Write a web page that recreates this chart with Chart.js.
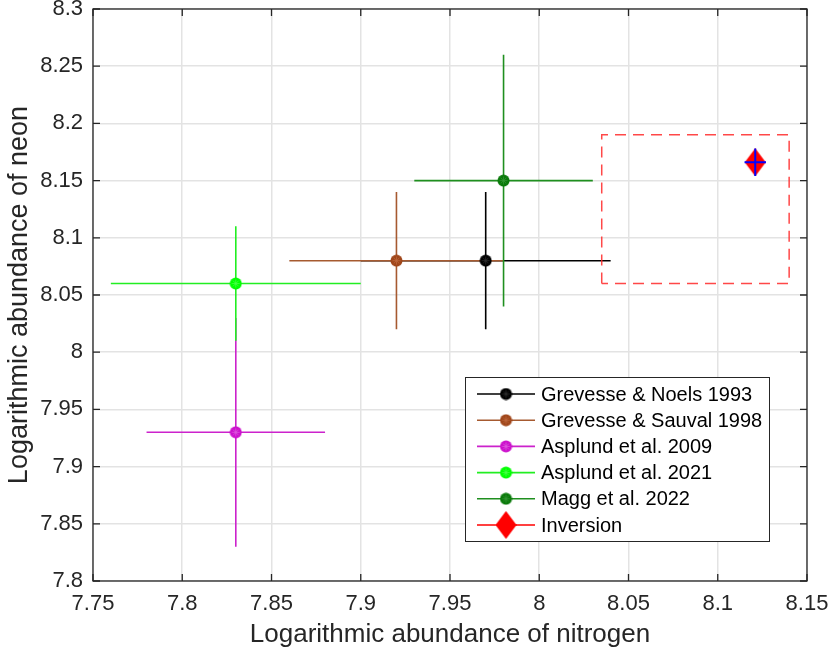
<!DOCTYPE html>
<html>
<head>
<meta charset="utf-8">
<title>Nitrogen vs neon abundance</title>
<script src="https://cdn.jsdelivr.net/npm/chart.js@4.4.1/dist/chart.umd.min.js"></script>
<style>
    html, body { margin: 0; padding: 0; background: #ffffff; }
    canvas { display: block; }
</style>
</head>
<body>
<canvas id="abundanceChart" width="832" height="655"></canvas>
<script>
// solar abundance determinations (log eps)
const seriesNames = ['Grevesse & Noels 1993', 'Grevesse & Sauval 1998', 'Asplund et al. 2009',
    'Asplund et al. 2021', 'Magg et al. 2022', 'Inversion'];
const nitrogen = [7.97, 7.92, 7.83, 7.83, 7.98, 8.121];
const nitrogenErr = [0.07, 0.06, 0.05, 0.07, 0.05, 0.006];
const neon = [8.08, 8.08, 7.93, 8.06, 8.15, 8.166];
const neonErr = [0.06, 0.06, 0.10, 0.05, 0.11, 0.012];

// dashed region around the inversion result
const regionX = [8.035, 8.14];
const regionY = [8.06, 8.19];

const xTicks = [7.75, 7.8, 7.85, 7.9, 7.95, 8, 8.05, 8.1, 8.15];
const yTicks = [7.8, 7.85, 7.9, 7.95, 8, 8.05, 8.1, 8.15, 8.2, 8.25, 8.3];

const lineColors = ['#000000', '#a65a30', '#cc22cc', '#22ee22', '#1f8f1f', '#ff0000'];
const fillColors = ['#000000', '#a0461a', '#cc11cc', '#00ff00', '#0a7a0a', '#ff0000'];
const starColors = ['#333333', '#c06a40', '#e060e0', '#50ff50', '#3a9a3a', '#ff0000'];
const inversionBarColor = '#0000ff';

const FONT = "'Liberation Sans', Arial, Helvetica, sans-serif";
const INK = '#262626';

function makeCircle(fill, star) {
    const c = document.createElement('canvas');
    c.width = 13; c.height = 13;
    const g = c.getContext('2d');
    g.fillStyle = fill;
    g.beginPath();
    g.arc(6.5, 6.5, 6, 0, Math.PI * 2);
    g.fill();
    g.strokeStyle = star;
    g.lineWidth = 0.7;
    for (let k = 0; k < 4; k++) {
        const a = k * Math.PI / 4;
        g.beginPath();
        g.moveTo(6.5 - 4 * Math.cos(a), 6.5 - 4 * Math.sin(a));
        g.lineTo(6.5 + 4 * Math.cos(a), 6.5 + 4 * Math.sin(a));
        g.stroke();
    }
    return c;
}

function makeDiamond(fill) {
    const c = document.createElement('canvas');
    c.width = 21; c.height = 28;
    const g = c.getContext('2d');
    g.fillStyle = fill;
    g.beginPath();
    g.moveTo(10.5, 0);
    g.lineTo(21, 14);
    g.lineTo(10.5, 28);
    g.lineTo(0, 14);
    g.closePath();
    g.fill();
    return c;
}

const markers = seriesNames.map((n, i) =>
    i === seriesNames.length - 1 ? makeDiamond(fillColors[i]) : makeCircle(fillColors[i], starColors[i]));

function errorBarPoints(i) {
    return [
        { x: nitrogen[i] - nitrogenErr[i], y: neon[i] },
        { x: nitrogen[i] + nitrogenErr[i], y: neon[i] },
        { x: nitrogen[i], y: null },
        { x: nitrogen[i], y: neon[i] - neonErr[i] },
        { x: nitrogen[i], y: neon[i] + neonErr[i] },
    ];
}

const datasets = [];
const last = seriesNames.length - 1;
seriesNames.forEach((name, i) => {
    const isInv = i === last;
    datasets.push({
        type: 'line',
        label: name + ' error',
        data: errorBarPoints(i),
        borderColor: isInv ? inversionBarColor : lineColors[i],
        borderWidth: isInv ? 2 : 1.6,
        pointRadius: 0,
        spanGaps: false,
        order: isInv ? 0 : 100 - i,
    });
    datasets.push({
        type: 'scatter',
        label: name,
        data: [{ x: nitrogen[i], y: neon[i] }],
        pointStyle: markers[i],
        pointRadius: 6,
        order: isInv ? 1 : 50 - i,
    });
});
datasets.push({
    type: 'line',
    label: 'region',
    data: [
        { x: regionX[0], y: regionY[0] }, { x: regionX[0], y: regionY[1] },
        { x: regionX[1], y: regionY[1] }, { x: regionX[1], y: regionY[0] },
        { x: regionX[0], y: regionY[0] },
    ],
    borderColor: 'rgba(255, 40, 40, 0.85)',
    borderWidth: 1.5,
    borderDash: [11, 7],
    pointRadius: 0,
    order: 2,
});

const fmt = v => String(+Number(v).toFixed(2));

// box, inward ticks and legend drawn MATLAB style
const frameAndLegend = {
    id: 'frameAndLegend',
    afterDatasetsDraw(chart) {
        const ctx = chart.ctx;
        const a = chart.chartArea;
        const sx = chart.scales.x, sy = chart.scales.y;
        ctx.save();
        ctx.strokeStyle = INK;
        ctx.lineWidth = 1.3;
        ctx.strokeRect(a.left, a.top, a.right - a.left, a.bottom - a.top);
        ctx.beginPath();
        xTicks.forEach(v => {
            const px = sx.getPixelForValue(v);
            ctx.moveTo(px, a.bottom); ctx.lineTo(px, a.bottom - 7);
            ctx.moveTo(px, a.top); ctx.lineTo(px, a.top + 7);
        });
        yTicks.forEach(v => {
            const py = sy.getPixelForValue(v);
            ctx.moveTo(a.left, py); ctx.lineTo(a.left + 7, py);
            ctx.moveTo(a.right, py); ctx.lineTo(a.right - 7, py);
        });
        ctx.stroke();

        // legend
        const bx = 465, by = 377, bw = 304, bh = 164;
        ctx.fillStyle = '#ffffff';
        ctx.fillRect(bx, by, bw, bh);
        ctx.strokeStyle = INK;
        ctx.lineWidth = 1;
        ctx.strokeRect(bx + 0.5, by + 0.5, bw, bh);
        ctx.font = '20px ' + FONT;
        ctx.textBaseline = 'middle';
        ctx.textAlign = 'left';
        seriesNames.forEach((name, i) => {
            const y = 394 + i * 26.2;
            ctx.strokeStyle = lineColors[i];
            ctx.lineWidth = 1.6;
            ctx.beginPath();
            ctx.moveTo(477, y); ctx.lineTo(535, y);
            ctx.stroke();
            const m = markers[i];
            ctx.drawImage(m, 506 - m.width / 2, y - m.height / 2);
            ctx.fillStyle = '#000000';
            ctx.fillText(name, 541, y + 1);
        });
        ctx.restore();
    }
};

new Chart(document.getElementById('abundanceChart'), {
    type: 'scatter',
    data: { datasets },
    options: {
        responsive: false,
        animation: false,
        layout: { padding: { top: 9, right: 25, left: 0, bottom: 0 } },
        plugins: { legend: { display: false }, tooltip: { enabled: false } },
        scales: {
            x: {
                type: 'linear',
                min: 7.75,
                max: 8.15,
                afterBuildTicks: s => { s.ticks = xTicks.map(v => ({ value: v })); },
                afterFit: s => { s.height = 74; s.paddingLeft = 0; s.paddingRight = 0; },
                ticks: {
                    callback: fmt,
                    autoSkip: false,
                    maxRotation: 0,
                    padding: 10,
                    color: INK,
                    font: { size: 22, family: FONT },
                },
                grid: { color: '#e3e3e3', lineWidth: 1.5, drawTicks: false },
                border: { display: false },
                title: {
                    display: true,
                    text: 'Logarithmic abundance of nitrogen',
                    color: INK,
                    font: { size: 26, family: FONT },
                    padding: { top: 0, bottom: 5 },
                },
            },
            y: {
                type: 'linear',
                min: 7.8,
                max: 8.3,
                afterBuildTicks: s => { s.ticks = yTicks.map(v => ({ value: v })); },
                afterFit: s => { s.width = 93; s.paddingTop = 0; s.paddingBottom = 0; },
                ticks: {
                    callback: fmt,
                    autoSkip: false,
                    padding: 10,
                    color: INK,
                    font: { size: 22, family: FONT },
                },
                grid: { color: '#e3e3e3', lineWidth: 1.5, drawTicks: false },
                border: { display: false },
                title: {
                    display: true,
                    text: 'Logarithmic abundance of neon',
                    color: INK,
                    font: { size: 27, family: FONT },
                    padding: { top: 3, bottom: 0 },
                },
            },
        },
    },
    plugins: [frameAndLegend],
});
</script>
</body>
</html>
